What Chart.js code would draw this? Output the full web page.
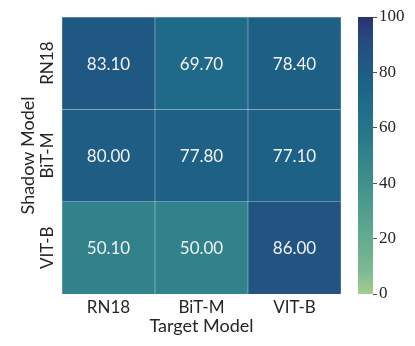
<!DOCTYPE html>
<html>
<head>
<meta charset="utf-8">
<script src="https://cdn.jsdelivr.net/npm/chart.js@4"></script>
<style>
  body { margin: 0; background: #fff; }
  #wrap { position: relative; width: 415px; height: 346px; }
  #heat { position: absolute; left: 0; top: 0; }
  #cbar { position: absolute; left: 345px; top: 0; }
</style>
</head>
<body>
<div id="wrap">
  <canvas id="heat" width="345" height="346"></canvas>
  <canvas id="cbar" width="70" height="346"></canvas>
</div>
<script>
// Data
const targetModels = ['RN18', 'BiT-M', 'VIT-B'];
const shadowModels = ['RN18', 'BiT-M', 'VIT-B'];   // top to bottom
const rowRN18 = [83.10, 69.70, 78.40];
const rowBiTM = [80.00, 77.80, 77.10];
const rowVITB = [50.10, 50.00, 86.00];
const cbTicks = [0, 20, 40, 60, 80, 100];
const vmin = 0;
const vmax = 100;

// crest-like colormap
const crestStops = [
    [0.000, [165, 205, 144]],
    [0.083, [125, 186, 145]],
    [0.250, [89, 165, 144]],
    [0.417, [62, 141, 141]],
    [0.583, [38, 119, 139]],
    [0.750, [28, 100, 136]],
    [0.917, [37, 75, 127]],
    [1.000, [44, 49, 114]]
];

function crest(v) {
    const t = Math.max(0, Math.min(1, (v - vmin) / (vmax - vmin)));
    for (let i = 1; i < crestStops.length; i++) {
        const [t1, c1] = crestStops[i];
        const [t0, c0] = crestStops[i - 1];
        if (t <= t1) {
            const f = (t - t0) / (t1 - t0);
            const c = c0.map((a, k) => Math.round(a + (c1[k] - a) * f));
            return `rgb(${c[0]}, ${c[1]}, ${c[2]})`;
        }
    }
    return 'rgb(44, 49, 114)';
}

const textColor = '#262626';
const sansFont = 'Lato, "Open Sans", sans-serif';
const serifFont = '"Liberation Serif", "DejaVu Serif", serif';

// rows stacked from the bottom up
const rows = [rowVITB, rowBiTM, rowRN18];

const cellLabels = {
    id: 'cellLabels',
    afterDatasetsDraw(chart) {
        const ctx = chart.ctx;
        ctx.save();
        ctx.font = '17px ' + sansFont;
        ctx.fillStyle = '#f2f2f2';
        ctx.textAlign = 'center';
        ctx.textBaseline = 'middle';
        chart.data.datasets.forEach((ds, di) => {
            const meta = chart.getDatasetMeta(di);
            meta.data.forEach((bar, i) => {
                const yc = (bar.y + bar.base) / 2;
                ctx.fillText(ds.values[i].toFixed(2), bar.x, yc + 1);
            });
        });
        ctx.restore();
    }
};

const rowLabels = {
    id: 'rowLabels',
    afterDraw(chart) {
        const ctx = chart.ctx;
        const yScale = chart.scales.y;
        ctx.save();
        ctx.font = '17px ' + sansFont;
        ctx.fillStyle = textColor;
        ctx.textAlign = 'center';
        ctx.textBaseline = 'middle';
        shadowModels.forEach((name, i) => {
            const idx = shadowModels.length - 1 - i;
            const y = yScale.getPixelForValue(idx + 0.5);
            ctx.save();
            ctx.translate(48, y);
            ctx.rotate(-Math.PI / 2);
            ctx.fillText(name, 0, 0);
            ctx.restore();
        });
        ctx.restore();
    }
};

new Chart(document.getElementById('heat'), {
    type: 'bar',
    data: {
        labels: targetModels,
        datasets: rows.map(vals => ({
            data: vals.map(() => 1),
            values: vals,
            backgroundColor: vals.map(crest),
            borderColor: 'rgba(255, 255, 255, 0.3)',
            borderWidth: 0.5,
            barPercentage: 1,
            categoryPercentage: 1
        }))
    },
    options: {
        responsive: false,
        animation: false,
        layout: { padding: { top: 17, right: 4, left: 0, bottom: 0 } },
        plugins: { legend: { display: false }, tooltip: { enabled: false } },
        scales: {
            x: {
                stacked: true,
                grid: { display: false, drawTicks: false },
                border: { display: false },
                ticks: { color: textColor, font: { family: sansFont, size: 17 }, padding: 3 },
                title: {
                    display: true,
                    text: 'Target Model',
                    color: textColor,
                    font: { family: sansFont, size: 18 },
                    padding: { top: 9, bottom: 9 }
                },
                afterFit(scale) { scale.height = 52; }
            },
            y: {
                stacked: true,
                min: 0,
                max: 3,
                grid: { display: false },
                border: { display: false },
                ticks: { display: false },
                title: {
                    display: true,
                    text: 'Shadow Model',
                    color: textColor,
                    font: { family: sansFont, size: 18 },
                    padding: { top: 17, bottom: 17 }
                },
                afterFit(scale) { scale.width = 62; }
            }
        }
    },
    plugins: [cellLabels, rowLabels]
});

// Colorbar
new Chart(document.getElementById('cbar'), {
    type: 'bar',
    data: {
        labels: ['cb'],
        datasets: [{
            data: [vmax],
            backgroundColor(context) {
                const chart = context.chart;
                if (!chart.chartArea) return crest(vmax);
                const yScale = chart.scales.y;
                const g = chart.ctx.createLinearGradient(0, yScale.getPixelForValue(vmin), 0, yScale.getPixelForValue(vmax));
                crestStops.forEach(([t]) => g.addColorStop(t, crest(vmin + t * (vmax - vmin))));
                return g;
            },
            borderWidth: 0,
            barPercentage: 1,
            categoryPercentage: 1
        }]
    },
    options: {
        responsive: false,
        animation: false,
        layout: { padding: { top: 17, right: 0, left: 13, bottom: 52 } },
        plugins: { legend: { display: false }, tooltip: { enabled: false } },
        scales: {
            x: { display: false },
            y: {
                position: 'right',
                min: vmin,
                max: vmax,
                afterBuildTicks(scale) { scale.ticks = cbTicks.map(v => ({ value: v })); },
                grid: { drawOnChartArea: false, drawTicks: true, tickLength: 4, color: textColor, lineWidth: 0.8 },
                border: { display: false },
                ticks: { color: textColor, font: { family: serifFont, size: 17 }, padding: 2 },
                afterFit(scale) { scale.width = 42; }
            }
        }
    }
});
</script>
</body>
</html>
